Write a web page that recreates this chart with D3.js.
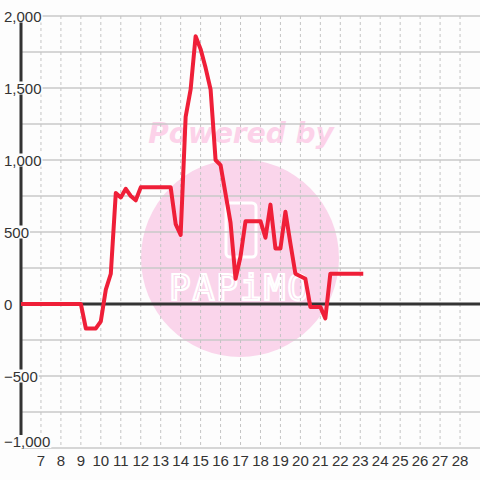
<!DOCTYPE html>
<html lang="en">
<head>
  <meta charset="UTF-8" />
  <title>Line chart</title>
  <script src="https://d3js.org/d3.v7.min.js"></script>
  <style>
    body { margin: 0; background: #fdfdfd; }
    svg { display: block; font-family: "Liberation Sans", Arial, sans-serif; }
    .tick-label { font-size: 15px; fill: #333; }
  </style>
</head>
<body>
  <svg width="480" height="480"></svg>
  <script>
    // series (x in hours, y values)
    const xs = [6, 9, 9.25, 9.75, 10, 10.25, 10.5, 10.75, 11, 11.25, 11.5, 11.75, 12, 13.5,
                13.75, 14, 14.25, 14.5, 14.75, 15, 15.25, 15.5, 15.75, 16, 16.5, 16.75,
                17, 17.25, 18, 18.25, 18.5, 18.75, 19, 19.25, 19.5, 19.75, 20.25, 20.5,
                21, 21.25, 21.5, 23.15];
    const ys = [0, 0, -170, -170, -120, 100, 210, 770, 740, 800, 750, 720, 810, 810,
                555, 480, 1300, 1490, 1860, 1770, 1640, 1490, 1000, 965, 565, 175,
                330, 575, 575, 460, 690, 385, 385, 640, 420, 210, 175, -20,
                -20, -100, 210, 210];
    const xTicks = d3.range(7, 29);
    const yTicks = [-1000, -500, 0, 500, 1000, 1500, 2000];
    const yGrid = d3.range(-1000, 2001, 250);

    const svg = d3.select("svg");
    const x = d3.scaleLinear().domain([6, 29]).range([21, 480]);
    const y = d3.scaleLinear().domain([-1000, 2000]).range([448, 16]);

    // watermark
    const wm = svg.append("g");
    wm.append("circle").attr("cx", 240).attr("cy", 258).attr("r", 99).attr("fill", "#fad5eb");
    wm.append("text")
      .attr("x", 241).attr("y", 143)
      .attr("text-anchor", "middle")
      .attr("font-family", "DejaVu Sans")
      .attr("font-weight", "bold").attr("font-style", "italic")
      .attr("font-size", 28).attr("fill", "#fcd2e9")
      .text("Powered by");
    wm.append("rect")
      .attr("x", 226).attr("y", 203).attr("width", 30).attr("height", 54).attr("rx", 4)
      .attr("fill", "none").attr("stroke", "#fff").attr("stroke-width", 3);
    wm.append("text")
      .attr("x", 240).attr("y", 300)
      .attr("text-anchor", "middle")
      .attr("font-family", "DejaVu Sans Mono")
      .attr("font-size", 36).attr("fill", "none")
      .attr("stroke", "#fff").attr("stroke-width", 2.2)
      .attr("letter-spacing", 2)
      .text("PAPiMO");

    // grid
    svg.append("g").selectAll("line").data(yGrid).join("line")
      .attr("x1", x(6)).attr("x2", 480)
      .attr("y1", d => y(d)).attr("y2", d => y(d))
      .attr("stroke", "#c8c8c8").attr("stroke-width", 1.5);
    svg.append("g").selectAll("line").data(xTicks).join("line")
      .attr("x1", d => x(d)).attr("x2", d => x(d))
      .attr("y1", y(2000)).attr("y2", y(-1000))
      .attr("stroke", "#c4c4c4").attr("stroke-dasharray", "3,3");

    // axes
    svg.append("line")
      .attr("x1", x(6)).attr("x2", x(6)).attr("y1", y(2000)).attr("y2", y(-1000))
      .attr("stroke", "#333").attr("stroke-width", 3);
    svg.append("line")
      .attr("x1", x(6)).attr("x2", 480).attr("y1", y(0)).attr("y2", y(0))
      .attr("stroke", "#333").attr("stroke-width", 3);

    // series line
    const data = xs.map((v, i) => [v, ys[i]]);
    svg.append("path")
      .datum(data)
      .attr("d", d3.line().x(d => x(d[0])).y(d => y(d[1])))
      .attr("fill", "none").attr("stroke", "#ef1f38")
      .attr("stroke-width", 4).attr("stroke-linejoin", "round");

    // y tick labels with background boxes; the lowest one sits above its line
    const fmt = d3.format(",");
    const yl = svg.append("g").selectAll("g").data(yTicks).join("g");
    yl.append("text")
      .attr("class", "tick-label")
      .attr("x", 4).attr("y", d => d === -1000 ? y(d) - 1 : y(d) + 5.5)
      .text(d => fmt(d));
    yl.each(function() {
      const g = d3.select(this);
      const b = g.select("text").node().getBBox();
      g.insert("rect", "text")
        .attr("x", b.x - 1).attr("y", b.y + 2)
        .attr("width", b.width + 2).attr("height", b.height - 4)
        .attr("fill", "#fdfdfd");
    });

    // x tick labels
    svg.append("g").selectAll("text").data(xTicks).join("text")
      .attr("class", "tick-label")
      .attr("x", d => x(d)).attr("y", 466)
      .attr("text-anchor", "middle")
      .text(d => d);
  </script>
</body>
</html>
